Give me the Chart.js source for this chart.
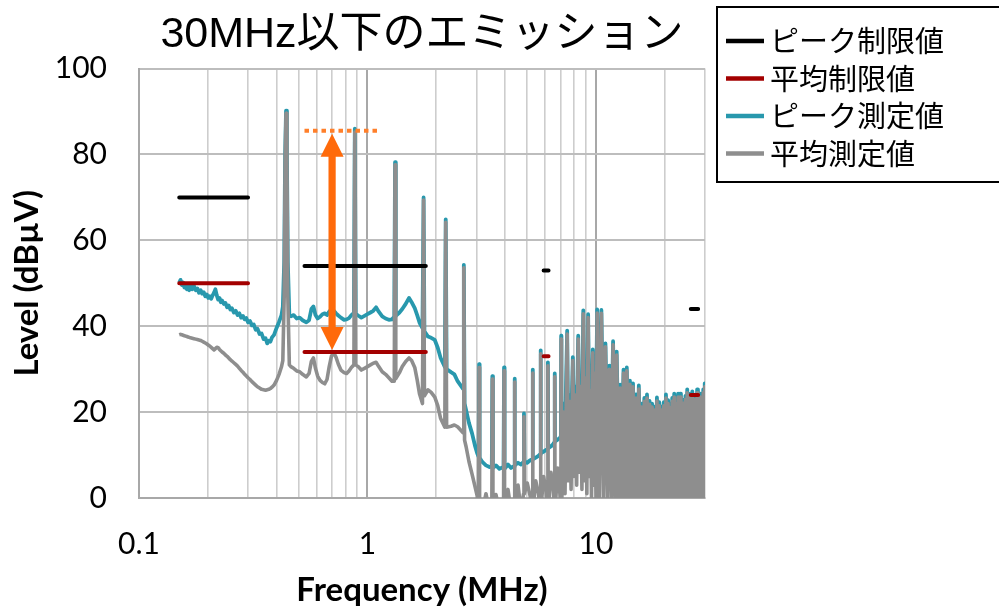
<!DOCTYPE html>
<html lang="ja">
<head>
<meta charset="utf-8">
<title>30MHz以下のエミッション</title>
<script src="https://cdn.jsdelivr.net/npm/chart.js@4.4.1/dist/chart.umd.min.js"></script>
<style>
  html, body { margin: 0; padding: 0; background: #fff; }
  #wrap { width: 999px; height: 610px; position: relative; overflow: hidden; }
</style>
</head>
<body>
<div id="wrap"><canvas id="emi" width="999" height="610"></canvas></div>
<script>
// ---- Conducted emission scan 0.15–30 MHz (dBµV) ----
const freqMHz = [
  // LW band and 0.44 MHz fundamental
  0.150,0.152,0.154,0.156,0.158,0.160,0.162,0.164,0.166,0.168,
  0.171,0.174,0.177,0.180,0.183,0.186,0.189,0.192,0.195,0.198,
  0.201,0.204,0.207,0.210,0.213,0.216,0.219,0.222,0.225,0.228,
  0.231,0.235,0.239,0.243,0.247,0.251,0.255,0.260,0.265,0.270,
  0.275,0.280,0.285,0.290,0.295,0.300,0.306,0.312,0.318,0.324,
  0.330,0.337,0.344,0.351,0.358,0.364,0.370,0.376,0.382,0.390,
  0.400,0.410,0.420,0.426,0.432,0.436,0.440,0.444,0.448,0.455,
  // MW band, lower half
  0.462,0.475,0.490,0.505,0.520,0.540,0.555,0.568,0.580,0.592,
  0.605,0.620,0.635,0.650,0.665,0.680,0.695,0.712,0.728,0.745,
  0.765,0.790,0.810,0.830,0.850,0.872,0.880,0.888,
  // MW band, upper half and roll-off
  0.910,0.940,0.970,1.000,1.030,1.060,1.090,1.120,1.160,1.200,
  1.240,1.280,1.310,1.320,1.330,1.380,1.420,1.470,1.520,1.560,
  1.610,1.650,1.690,1.740,1.760,1.775,1.840,1.900,1.970,2.030,
  2.090,2.180,2.200,2.220,2.320,2.400,2.480,2.620,2.640,2.660,
  2.700,2.780,2.870,2.960,3.020,
  // 3–7 MHz harmonics
  3.065,3.080,3.095,3.180,3.300,3.420,3.500,3.520,3.540,3.650,
  3.780,3.940,3.960,3.980,4.120,4.250,4.380,4.400,4.420,4.560,
  4.700,4.820,4.840,4.860,5.000,5.150,5.260,5.280,5.300,5.450,
  5.600,5.700,5.720,5.740,5.900,6.050,6.140,6.160,6.180,6.350,
  6.500,6.580,6.600,6.620,6.800,6.950,7.020,7.040,7.060,
  // 7–10 MHz
  7.120,7.200,7.320,7.480,7.560,7.650,7.780,7.920,8.000,8.100,
  8.230,8.360,8.450,8.540,8.680,8.800,8.890,8.990,9.120,9.240,
  9.340,9.430,9.560,9.680,9.780,9.880,10.000,
  // 10–30 MHz
  10.12,10.34,10.56,10.78,11.00,11.22,11.44,11.66,11.88,12.10,
  12.32,12.54,12.76,12.98,13.20,13.42,13.64,13.86,14.08,14.30,
  14.52,14.74,14.96,15.18,15.40,15.62,15.84,16.06,16.28,16.50,
  16.72,16.94,17.16,17.38,17.60,17.82,18.04,18.26,18.48,18.70,
  18.92,19.14,19.36,19.58,19.80,20.02,20.24,20.46,20.68,20.90,
  21.12,21.34,21.56,21.78,22.00,22.22,22.44,22.66,22.88,23.10,
  23.32,23.54,23.76,23.98,24.20,24.42,24.64,24.86,25.08,25.30,
  25.52,25.74,25.96,26.18,26.40,26.62,26.84,27.06,27.28,27.50,
  27.72,27.94,28.16,28.38,28.60,28.82,29.04,29.26,29.48,29.70,
  29.92,30.00
];

const peakLevel = [
  50.1,50.8,49.6,50.2,49.0,49.6,48.6,49.2,48.4,49.6,
  48.6,49.4,48.4,48.8,47.8,48.4,47.6,47.9,47.0,47.4,
  46.6,47.0,46.4,47.2,47.8,48.6,47.2,46.2,46.6,45.6,
  46.0,45.2,45.4,44.4,44.8,43.9,44.2,43.2,43.6,42.6,
  43.0,42.0,42.4,41.6,41.9,40.9,41.2,40.2,40.4,39.2,
  39.4,38.2,38.3,37.0,37.2,36.0,36.6,36.4,37.4,38.0,
  39.6,41.0,42.5,44.5,55.0,80.0,90.2,80.0,55.0,42.6,

  42.3,42.6,41.8,42.0,41.4,40.9,41.4,44.0,44.6,42.6,
  41.8,42.2,42.8,43.0,42.6,43.4,44.0,43.6,43.0,42.5,
  42.0,41.5,41.6,41.9,42.6,43.1,86.0,42.9,

  42.5,42.0,42.4,42.8,43.2,43.6,44.4,43.4,42.3,41.8,
  41.5,41.6,42.2,78.2,42.4,43.2,44.0,45.2,46.6,45.6,
  44.2,42.6,40.8,39.6,70.0,38.8,37.6,37.3,36.8,35.0,
  32.6,30.5,64.9,30.0,29.3,28.8,27.2,25.4,54.3,22.0,
  20.5,17.5,15.0,12.0,10.4,

  9.6,31.2,9.4,8.4,7.6,7.2,7.4,28.4,7.0,7.6,
  6.8,7.2,30.4,6.8,7.8,7.0,7.4,27.8,7.6,8.2,
  7.8,8.4,19.7,8.6,8.2,8.8,9.0,29.9,9.0,9.4,
  9.8,10.2,34.4,10.4,10.8,11.2,11.4,31.6,11.6,12.0,
  12.6,13.0,29.0,13.2,13.6,14.0,14.4,37.8,14.6,

  15.0,22.0,15.4,39.0,16.2,24.0,16.6,32.8,17.0,26.0,
  17.2,37.8,17.6,28.0,18.0,43.7,18.4,30.0,18.8,42.8,
  19.2,27.0,19.6,34.6,20.0,31.0,20.4,

  43.9,14.0,43.8,13.0,36.0,12.0,30.8,13.5,36.5,12.5,
  34.1,11.0,26.4,12.0,29.9,13.0,30.4,10.5,27.3,8.0,
  26.7,12.0,24.1,11.0,26.2,9.0,22.0,12.0,23.3,10.0,
  24.1,13.0,22.6,9.5,22.0,12.5,21.3,11.0,23.4,13.0,
  22.3,10.0,21.3,12.0,22.3,11.0,24.1,13.5,22.8,10.5,
  21.8,12.0,23.3,14.0,24.3,11.5,22.6,13.0,24.3,12.0,
  24.3,14.5,22.3,12.0,22.9,13.5,23.8,11.0,25.3,14.0,
  24.3,12.5,23.3,15.0,24.8,13.0,23.8,12.0,23.3,15.5,
  25.3,13.5,24.3,14.0,24.3,12.5,23.3,15.0,25.3,14.0,
  26.7,18.0
];

// values below the axis floor are off-scale readings
const avgLevel = [
  38.0,38.1,38.0,37.9,37.8,37.7,37.6,37.5,37.4,37.3,
  37.2,37.1,37.0,36.9,36.8,36.7,36.5,36.3,36.1,35.9,
  35.6,35.4,35.1,34.8,34.5,34.8,35.1,35.0,34.6,34.3,
  34.0,33.7,33.3,33.0,32.6,32.2,31.9,31.5,31.1,30.7,
  30.2,29.7,29.3,28.8,28.4,28.0,27.6,27.1,26.7,26.3,
  25.9,25.6,25.3,25.2,25.1,25.2,25.3,25.5,25.8,26.3,
  27.4,28.8,30.5,32.0,47.0,78.0,89.6,78.0,47.0,31.0,

  30.6,30.2,29.6,29.4,28.8,28.2,29.0,31.8,32.6,30.2,
  28.4,27.4,26.9,26.6,27.6,30.6,33.0,33.8,32.8,31.2,
  29.8,29.2,29.0,29.6,30.4,31.0,85.2,31.0,

  30.6,29.8,30.2,30.6,31.0,31.4,31.6,30.6,29.4,28.8,
  28.0,27.2,27.2,77.6,27.8,29.2,30.6,31.8,32.6,32.0,
  30.4,27.5,24.2,22.0,69.4,23.8,25.2,24.6,23.5,21.5,
  18.5,16.5,64.2,16.5,16.7,17.0,16.6,15.2,53.6,13.5,
  12.0,8.5,5.5,2.5,0.5,

  -3,30.4,-3,-3,1.0,-3,-3,27.7,-3,0.8,
  -3,-3,29.6,-3,2.0,-3,-3,27.0,-3,3.0,
  -3,1.0,18.9,1.0,3.5,0.5,-3,29.1,-3,4.0,
  1.0,-3,33.6,-3,5.0,1.5,-3,30.8,-3,6.0,
  2.0,-3,28.2,-3,7.0,1.0,-3,37.0,-3,

  3.0,20.0,1.0,38.2,4.0,22.5,2.0,32.0,5.0,24.0,
  3.0,37.0,6.0,26.0,2.0,42.9,4.0,28.0,1.0,42.0,
  5.0,25.0,0.0,33.8,3.0,29.0,0.0,

  43.1,0,43.0,0,35.2,0,30.0,0,35.7,0,
  33.3,0,25.6,0,29.1,0,29.6,0,26.5,0,
  25.9,0,23.3,0,25.4,0,21.2,0,22.5,0,
  23.3,0,21.8,0,21.2,0,20.5,0,22.6,0,
  21.5,0,20.5,0,21.5,0,23.3,0,22.0,0,
  21.0,0,22.5,0,23.5,0,21.8,0,23.5,0,
  23.5,0,21.5,0,22.1,0,23.0,0,24.5,0,
  23.5,0,22.5,0,24.0,0,23.0,0,22.5,0,
  24.5,0,23.5,0,23.5,0,22.5,0,24.5,0,
  25.9,10.0
];

// Limit bands (LW, MW, SW, CB)
const bandStartMHz = [0.15, 0.53, 5.9, 26];
const bandEndMHz   = [0.30, 1.8, 6.2, 28];
const peakLimit    = [70, 54, 53, 44];
const avgLimit     = [50, 34, 33, 24];

// Margin marker: highest MW emission vs. average limit
const markerFreqMHz = 0.7;
const markerPeakLevel = 85.5;
const markerLimitLevel = 34;
const markerSpanMHz = [0.53, 1.12];

const chartTitle = '30MHz以下のエミッション';
const seriesNames = ['ピーク制限値', '平均制限値', 'ピーク測定値', '平均測定値'];
const seriesColors = ['#000000', '#a30000', '#2898ad', '#8e8e8e'];

const xGridMHz = [0.1,0.2,0.3,0.4,0.5,0.6,0.7,0.8,0.9,1,2,3,4,5,6,7,8,9,10,20,30];
const xTickLabels = [0.1, 1, 10];
const xDecades = [1, 10];

const scanPoints = vals => freqMHz.map((f, i) => ({ x: f, y: vals[i] }));
function bandSegments(levels) {
  const out = [];
  bandStartMHz.forEach((s, i) => {
    out.push({ x: s, y: levels[i] }, { x: bandEndMHz[i], y: levels[i] });
    if (i < bandStartMHz.length - 1) out.push({ x: bandEndMHz[i], y: null });
  });
  return out;
}

const latinCjk = "'Liberation Sans', 'Noto Sans CJK JP', sans-serif";

// double-headed margin arrow with dotted reference line
const marginArrow = {
  id: 'marginArrow',
  afterDatasetsDraw(chart) {
    const { ctx, scales: { x, y } } = chart;
    const ax = x.getPixelForValue(markerFreqMHz);
    const yTop = y.getPixelForValue(markerPeakLevel);
    const yBot = y.getPixelForValue(markerLimitLevel);
    ctx.save();
    ctx.strokeStyle = '#ff7f2a';
    ctx.lineWidth = 4;
    ctx.setLineDash([4.5, 4]);
    ctx.beginPath();
    ctx.moveTo(x.getPixelForValue(markerSpanMHz[0]), yTop);
    ctx.lineTo(x.getPixelForValue(markerSpanMHz[1]), yTop);
    ctx.stroke();
    ctx.setLineDash([]);
    const headLen = 23, headHalf = 11.5, shaft = 3.6;
    const t = yTop + 3, b = yBot - 2;
    ctx.fillStyle = '#ff6a0a';
    ctx.beginPath();
    ctx.moveTo(ax, t);
    ctx.lineTo(ax + headHalf, t + headLen);
    ctx.lineTo(ax + shaft, t + headLen);
    ctx.lineTo(ax + shaft, b - headLen);
    ctx.lineTo(ax + headHalf, b - headLen);
    ctx.lineTo(ax, b);
    ctx.lineTo(ax - headHalf, b - headLen);
    ctx.lineTo(ax - shaft, b - headLen);
    ctx.lineTo(ax - shaft, t + headLen);
    ctx.lineTo(ax - headHalf, t + headLen);
    ctx.closePath();
    ctx.fill();
    ctx.restore();
  }
};

// boxed legend to the right of the plot
const boxLegend = {
  id: 'boxLegend',
  afterDraw(chart) {
    const ctx = chart.ctx;
    ctx.save();
    ctx.strokeStyle = '#000';
    ctx.lineWidth = 2;
    ctx.strokeRect(717, 7, 320, 175);
    ctx.font = "29px 'Noto Sans CJK JP', sans-serif";
    ctx.textBaseline = 'middle';
    ctx.textAlign = 'left';
    seriesNames.forEach((name, i) => {
      const yr = 41 + i * 37.5;
      ctx.strokeStyle = seriesColors[i];
      ctx.lineWidth = 4.5;
      ctx.beginPath();
      ctx.moveTo(726, yr);
      ctx.lineTo(764, yr);
      ctx.stroke();
      ctx.fillStyle = '#000';
      ctx.fillText(name, 770, yr);
    });
    ctx.restore();
  }
};

new Chart(document.getElementById('emi'), {
  type: 'line',
  data: {
    datasets: [
      { label: seriesNames[0], data: bandSegments(peakLimit), borderColor: seriesColors[0],
        borderWidth: 4, borderCapStyle: 'round', spanGaps: false, order: 1 },
      { label: seriesNames[1], data: bandSegments(avgLimit), borderColor: seriesColors[1],
        borderWidth: 4, borderCapStyle: 'round', spanGaps: false, order: 2 },
      { label: seriesNames[2], data: scanPoints(peakLevel), borderColor: seriesColors[2],
        borderWidth: 3.8, borderJoinStyle: 'round', order: 4 },
      { label: seriesNames[3], data: scanPoints(avgLevel), borderColor: seriesColors[3],
        borderWidth: 3.6, borderJoinStyle: 'round', order: 3 }
    ]
  },
  options: {
    responsive: false,
    animation: false,
    devicePixelRatio: 1,
    layout: { padding: { left: 0, right: 294, top: 0, bottom: 0 } },
    elements: { point: { radius: 0, hoverRadius: 0 }, line: { tension: 0, fill: false } },
    plugins: {
      legend: { display: false },
      tooltip: { enabled: false },
      title: {
        display: true, text: chartTitle, fullSize: false, color: '#000',
        font: { family: latinCjk, size: 43, weight: 'normal' },
        padding: { top: 9, bottom: 8 }
      }
    },
    scales: {
      x: {
        type: 'logarithmic', min: 0.1, max: 30,
        afterBuildTicks: s => { s.ticks = xGridMHz.map(v => ({ value: v })); },
        afterFit: s => { s.height = 112; },
        ticks: {
          autoSkip: false, maxRotation: 0, minRotation: 0, padding: 28, color: '#000',
          font: { family: 'Lato', size: 30 },
          callback: v => (xTickLabels.includes(v) ? String(v) : '')
        },
        grid: {
          drawTicks: false,
          color: c => (xDecades.includes(c.tick && c.tick.value) ? '#a8a8a8' : '#cdcdcd'),
          lineWidth: c => (xDecades.includes(c.tick && c.tick.value) ? 2 : 1.6)
        },
        border: { color: '#a8a8a8', width: 2 },
        title: {
          display: true, text: 'Frequency (MHz)', color: '#000',
          font: { family: 'Lato', size: 33, weight: 'bold' },
          padding: { top: 0, bottom: 0 }
        }
      },
      y: {
        min: 0, max: 100,
        afterFit: s => { s.width = 139; },
        ticks: { stepSize: 20, padding: 32, color: '#000', font: { family: 'Lato', size: 30 } },
        grid: { drawTicks: false, color: '#bdbdbd', lineWidth: 2 },
        border: { color: '#a8a8a8', width: 2 },
        title: {
          display: true, text: 'Level (dBµV)', color: '#000',
          font: { family: 'Lato', size: 33, weight: 'bold' },
          padding: { top: 8, bottom: 0 }
        }
      }
    }
  },
  plugins: [marginArrow, boxLegend]
});
</script>
</body>
</html>
